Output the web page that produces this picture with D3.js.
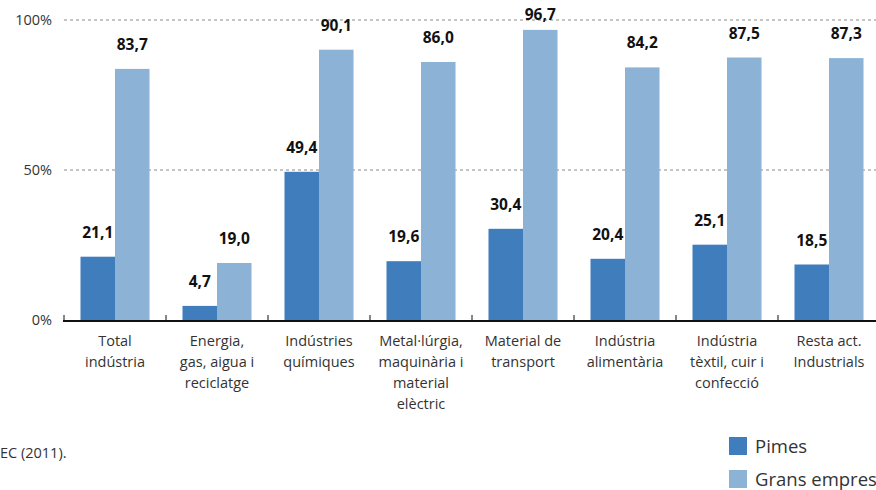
<!DOCTYPE html>
<html><head><meta charset="utf-8">
<script src="https://cdn.jsdelivr.net/npm/d3@7/dist/d3.min.js"></script>
<style>body{margin:0;background:#fff}svg{display:block}</style>
</head><body>
<svg id="c" width="876" height="490"></svg>
<script>
const categories = [
  ["Total","indústria"],
  ["Energia,","gas, aigua i","reciclatge"],
  ["Indústries","químiques"],
  ["Metal·lúrgia,","maquinària i","material","elèctric"],
  ["Material de","transport"],
  ["Indústria","alimentària"],
  ["Indústria","tèxtil, cuir i","confecció"],
  ["Resta act.","Industrials"]
];
const series = ["Pimes","Grans empreses"];
const pimes = [21.1, 4.7, 49.4, 19.6, 30.4, 20.4, 25.1, 18.5];
const grans = [83.7, 19.0, 90.1, 86.0, 96.7, 84.2, 87.5, 87.3];
const yTicks = [0, 50, 100];
const source = "EC (2011).";

const colors = ["#3f7dbd", "#8cb2d6"];
const font = "'Open Sans', 'Noto Sans', sans-serif";
const svg = d3.select("#c");

const x = d3.scaleBand().domain(d3.range(categories.length)).range([64, 880]).paddingInner(0).paddingOuter(0);
const y = d3.scaleLinear().domain([0, 100]).range([320, 20]);
const groupW = 69;
const xs = d3.scaleBand().domain([0,1]).range([0, groupW]);

// gridlines
svg.append("g").selectAll("line").data(yTicks.filter(d => d > 0)).join("line")
  .attr("x1", 64).attr("x2", 876)
  .attr("y1", d => y(d)).attr("y2", d => y(d))
  .attr("stroke", "#8a8a8a").attr("stroke-width", 1).attr("stroke-dasharray", "3,3");

// y labels
svg.append("g").selectAll("text").data(yTicks).join("text")
  .attr("x", 52).attr("y", d => y(d) + 5)
  .attr("text-anchor", "end")
  .attr("font-family", font).attr("font-size", 14.5).attr("fill", "#333")
  .text(d => d + "%");

// bars
const data = [];
categories.forEach((c, i) => {
  [pimes[i], grans[i]].forEach((v, s) => data.push({i, s, v}));
});
const gx = i => x(i) + (x.bandwidth() - groupW) / 2;
svg.append("g").selectAll("rect").data(data).join("rect")
  .attr("x", d => gx(d.i) + xs(d.s))
  .attr("width", xs.bandwidth())
  .attr("y", d => y(d.v))
  .attr("height", d => y(0) - y(d.v))
  .attr("fill", d => colors[d.s]);

// value labels
svg.append("g").selectAll("text").data(data).join("text")
  .attr("x", d => gx(d.i) + xs(d.s) + xs.bandwidth() / 2)
  .attr("y", d => Math.max(y(d.v) - 19, 20))
  .attr("text-anchor", "middle")
  .attr("font-family", font).attr("font-size", 15.5).attr("font-weight", "bold").attr("fill", "#111")
  .text(d => d.v.toFixed(1).replace(".", ","));

// axis
svg.append("line").attr("x1", 63).attr("x2", 876).attr("y1", 321).attr("y2", 321)
  .attr("stroke", "#111").attr("stroke-width", 2);
svg.append("g").selectAll("line").data(d3.range(categories.length + 1)).join("line")
  .attr("x1", d => 64 + d * x.bandwidth()).attr("x2", d => 64 + d * x.bandwidth())
  .attr("y1", 321).attr("y2", 315)
  .attr("stroke", "#111").attr("stroke-width", 1);

// category labels
const cl = svg.append("g").selectAll("text").data(categories).join("text")
  .attr("text-anchor", "middle")
  .attr("font-family", font).attr("font-size", 14.5).attr("fill", "#333");
cl.each(function(lines, i) {
  d3.select(this).selectAll("tspan").data(lines).join("tspan")
    .attr("x", x(i) + x.bandwidth() / 2)
    .attr("y", (d, k) => 346 + k * 21)
    .text(d => d);
});

// source
svg.append("text").attr("x", 0).attr("y", 458)
  .attr("font-family", font).attr("font-size", 14.5).attr("fill", "#333").text(source);

// legend
const lg = svg.append("g").selectAll("g").data(series).join("g")
  .attr("transform", (d, k) => `translate(729, ${437 + k * 33})`);
lg.append("rect").attr("width", 18).attr("height", 18).attr("fill", (d, k) => colors[k]);
lg.append("text").attr("x", 26).attr("y", 16)
  .attr("font-family", font).attr("font-size", 18.5).attr("fill", "#333").text(d => d);
</script>
</body></html>
